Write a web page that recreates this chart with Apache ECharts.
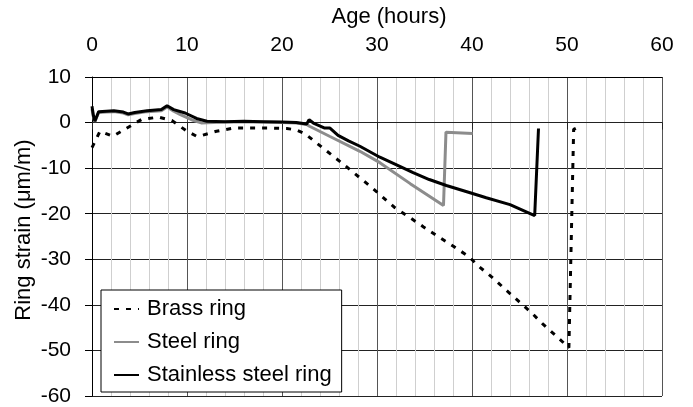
<!DOCTYPE html>
<html>
<head>
<meta charset="utf-8">
<script src="https://cdn.jsdelivr.net/npm/echarts@6/dist/echarts.min.js"></script>
<style>
html,body{margin:0;padding:0;background:#fff;}
#c{width:693px;height:407px;}
</style>
</head>
<body>
<div id="c"></div>
<script>
// Tick labels / axes
var xTicks = [0, 10, 20, 30, 40, 50, 60];
var yTicks = [-60, -50, -40, -30, -20, -10, 0, 10];
var xTitle = 'Age (hours)';
var yTitle = 'Ring strain (\u03bcm/m)';

// Brass ring (dashed)
var brassHours = [0, 0.84, 2.2, 4.0, 5.2, 7.0, 8.4, 10.0, 11.0, 11.5, 13.1, 14.9, 15.9, 18.7, 20.5, 21.5, 22.4, 23.65, 26.5, 29.3, 31.9, 33.5, 34.9, 36.5, 38.0, 39.6, 40.8, 42.2, 43.5, 44.9, 46.3, 47.5, 48.9, 50.2, 50.4, 50.7, 51.3];
var brassStrain = [-5.5, -1.9, -3.0, -0.8, 0.65, 1.2, 0.45, -1.9, -3.0, -2.85, -1.9, -1.2, -1.2, -1.2, -1.3, -1.6, -2.4, -4.5, -9.2, -14.0, -18.7, -20.9, -22.9, -25.1, -27.1, -29.3, -31.7, -34.1, -36.6, -39.2, -41.8, -44.3, -46.9, -49.4, -49.4, -1.5, -0.9];

// Steel ring (grey)
var steelHours = [0, 0.15, 0.3, 0.7, 1.5, 2.3, 3.3, 3.8, 4.5, 5.8, 7.3, 7.9, 8.6, 9.3, 10.7, 11.5, 14, 16, 18, 20, 21.5, 22.6, 22.9, 25.0, 28.2, 30.3, 33.5, 37.0, 37.26, 40.07];
var steelStrain = [3.0, 1.2, 0.2, 2.2, 2.3, 2.4, 2.1, 1.7, 2.0, 2.4, 2.6, 3.4, 2.5, 1.75, 0.45, -0.07, 0.1, 0.2, 0.1, 0.0, -0.1, -0.4, -0.8, -3.0, -6.3, -8.8, -13.4, -18.2, -2.1, -2.4];

// Stainless steel ring (black)
var stainlessHours = [0, 0.15, 0.3, 0.7, 1.5, 2.3, 3.3, 3.8, 4.5, 5.8, 7.3, 7.9, 8.6, 9.8, 11.0, 12.1, 14, 16, 18, 20, 21.5, 22.6, 22.85, 23.3, 24.5, 25.05, 25.9, 27.0, 28.2, 30.3, 32.4, 33.8, 35.5, 37.3, 39.8, 41.5, 44.0, 46.6, 47.0];
var stainlessStrain = [3.6, 1.5, 0.3, 2.4, 2.5, 2.6, 2.3, 1.9, 2.2, 2.6, 2.85, 3.7, 2.85, 2.1, 0.9, 0.3, 0.2, 0.3, 0.2, 0.1, 0.0, -0.3, 0.65, -0.1, -1.2, -1.2, -2.8, -4.0, -5.2, -7.6, -9.6, -11.0, -12.5, -13.8, -15.4, -16.5, -18.0, -20.4, -1.3];

var seriesNames = ['Brass ring', 'Steel ring', 'Stainless steel ring'];

function pairs(xs, ys) {
  return xs.map(function (x, i) { return [x, ys[i]]; });
}

var FONT = '"Liberation Sans", Arial, sans-serif';
var chart = echarts.init(document.getElementById('c'), null, {renderer: 'canvas'});

var xStep = xTicks[1] - xTicks[0];
var yStep = yTicks[1] - yTicks[0];

chart.setOption({
  animation: false,
  backgroundColor: '#fff',
  title: {
    text: xTitle,
    left: 389,
    top: 6,
    textAlign: 'center',
    padding: 0,
    textStyle: {fontFamily: FONT, fontSize: 22, fontWeight: 'normal', color: '#000'}
  },
  graphic: [
    {
      type: 'text',
      x: 24,
      y: 230,
      rotation: Math.PI / 2,
      style: {
        text: yTitle,
        font: '22px "Liberation Sans", Arial, sans-serif',
        fill: '#000',
        textAlign: 'center',
        textVerticalAlign: 'middle'
      }
    }
  ],
  grid: {left: 92, right: 31, top: 77, bottom: 11, containLabel: false},
  legend: {
    orient: 'vertical',
    left: 101,
    top: 290,
    padding: [8, 10, 6, 12],
    backgroundColor: '#fff',
    borderColor: '#000',
    borderWidth: 1,
    borderRadius: 0,
    itemWidth: 25,
    itemHeight: 14,
    itemGap: 11,
    data: seriesNames,
    itemStyle: {opacity: 0, borderWidth: 0},
    textStyle: {fontFamily: FONT, fontSize: 22, color: '#000', padding: [0, 0, 0, 3]}
  },
  xAxis: [
    {
      type: 'value',
      position: 'top',
      min: xTicks[0],
      max: xTicks[xTicks.length - 1],
      interval: xStep,
      axisLine: {show: true, onZero: false, lineStyle: {color: '#000', width: 1}},
      axisTick: {show: false},
      axisLabel: {fontFamily: FONT, fontSize: 21, color: '#000', margin: 21},
      splitLine: {show: true, lineStyle: {color: '#555', width: 1}},
      minorTick: {show: false, splitNumber: 5},
      minorSplitLine: {show: true, lineStyle: {color: '#cfcfcf', width: 1}}
    },
    {
      type: 'value',
      position: 'bottom',
      min: xTicks[0],
      max: xTicks[xTicks.length - 1],
      interval: xStep,
      axisLine: {show: true, onZero: true, lineStyle: {color: '#222', width: 1}},
      axisTick: {show: true, length: 7, lineStyle: {color: '#222'}},
      axisLabel: {show: false},
      splitLine: {show: false}
    }
  ],
  yAxis: {
    type: 'value',
    min: yTicks[0],
    max: yTicks[yTicks.length - 1],
    interval: yStep,
    axisLine: {show: true, onZero: false, lineStyle: {color: '#000', width: 1}},
    axisTick: {show: true, length: 7, lineStyle: {color: '#000'}},
    axisLabel: {fontFamily: FONT, fontSize: 21, color: '#000', margin: 21},
    splitLine: {show: true, lineStyle: {color: '#222', width: 1}}
  },
  series: [
    {
      name: seriesNames[0],
      type: 'line',
      xAxisIndex: 0,
      data: pairs(brassHours, brassStrain),
      showSymbol: false,
      symbol: 'none',
      lineStyle: {color: '#000', width: 3, type: [5, 7]},
      itemStyle: {color: '#000'}
    },
    {
      name: seriesNames[1],
      type: 'line',
      xAxisIndex: 0,
      data: pairs(steelHours, steelStrain),
      showSymbol: false,
      symbol: 'none',
      lineStyle: {color: '#8c8c8c', width: 3},
      itemStyle: {color: '#8c8c8c'}
    },
    {
      name: seriesNames[2],
      type: 'line',
      xAxisIndex: 0,
      data: pairs(stainlessHours, stainlessStrain),
      showSymbol: false,
      symbol: 'none',
      lineStyle: {color: '#000', width: 3},
      itemStyle: {color: '#000'}
    }
  ]
});
</script>
</body>
</html>
